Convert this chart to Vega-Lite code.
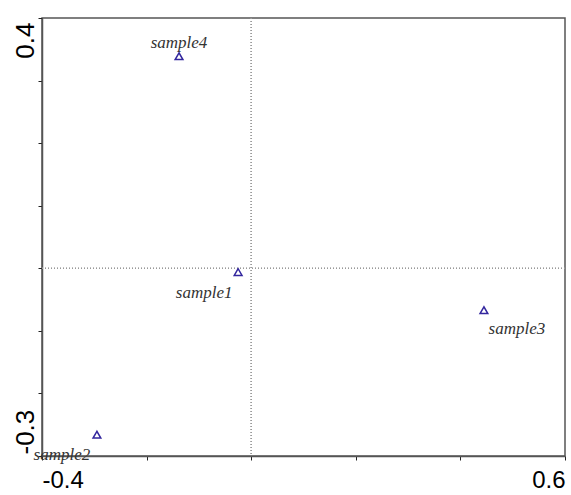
{
  "$schema": "https://vega.github.io/schema/vega-lite/v6.json",
  "width": 523,
  "height": 438,
  "autosize": "none",
  "padding": {"left": 42, "top": 18, "right": 6, "bottom": 39},
  "background": "white",
  "config": {
    "view": {"stroke": "#555555", "strokeWidth": 1.5},
    "axis": {
      "grid": false,
      "domainColor": "#555555",
      "domainWidth": 1.5,
      "tickColor": "#222222",
      "tickSize": 4,
      "labelFont": "Liberation Sans",
      "labelColor": "#000000",
      "title": null
    }
  },
  "data": {
    "values": [
      {"label": "sample1", "x": -0.025, "y": -0.006},
      {"label": "sample2", "x": -0.295, "y": -0.266},
      {"label": "sample3", "x": 0.445, "y": -0.067},
      {"label": "sample4", "x": -0.138, "y": 0.339}
    ]
  },
  "layer": [
    {
      "mark": {"type": "rule", "color": "#9a9a9a", "strokeDash": [1, 2], "strokeWidth": 1},
      "encoding": {"x": {"datum": 0, "type": "quantitative"}}
    },
    {
      "mark": {"type": "rule", "color": "#9a9a9a", "strokeDash": [1, 2], "strokeWidth": 1},
      "encoding": {"y": {"datum": 0, "type": "quantitative"}}
    },
    {
      "mark": {"type": "point", "shape": "triangle-up", "filled": false, "size": 60, "strokeWidth": 1.5, "color": "#33279e", "opacity": 1},
      "encoding": {
        "x": {
          "field": "x", "type": "quantitative",
          "scale": {"domain": [-0.4, 0.6], "nice": false, "zero": false},
          "axis": {
            "values": [-0.4, -0.2, 0, 0.2, 0.4, 0.6],
            "labelExpr": "datum.value == -0.4 ? '-0.4' : (datum.value == 0.6 ? '0.6' : '')",
            "labelFontSize": 24,
            "labelFlush": true,
            "labelPadding": 8
          }
        },
        "y": {
          "field": "y", "type": "quantitative",
          "scale": {"domain": [-0.3, 0.4], "nice": false, "zero": false},
          "axis": {
            "values": [-0.3, -0.2, -0.1, 0, 0.1, 0.2, 0.3, 0.4],
            "labelExpr": "datum.value == -0.3 ? '-0.3' : (datum.value == 0.4 ? '0.4' : '')",
            "labelFontSize": 26,
            "labelAngle": 270,
            "labelAlign": {"condition": {"test": "datum.value > 0", "value": "right"}, "value": "left"},
            "labelOffset": {"condition": {"test": "datum.value > 0", "value": 4}, "value": -2},
            "labelBaseline": "alphabetic",
            "labelPadding": 5
          }
        }
      }
    },
    {
      "transform": [{"filter": "datum.label == 'sample1'"}],
      "mark": {"type": "text", "font": "Liberation Serif", "fontStyle": "italic", "fontSize": 17, "color": "#333333", "dx": -34, "dy": 21},
      "encoding": {"x": {"field": "x", "type": "quantitative"}, "y": {"field": "y", "type": "quantitative"}, "text": {"field": "label"}}
    },
    {
      "transform": [{"filter": "datum.label == 'sample2'"}],
      "mark": {"type": "text", "font": "Liberation Serif", "fontStyle": "italic", "fontSize": 17, "color": "#333333", "dx": -35, "dy": 20},
      "encoding": {"x": {"field": "x", "type": "quantitative"}, "y": {"field": "y", "type": "quantitative"}, "text": {"field": "label"}}
    },
    {
      "transform": [{"filter": "datum.label == 'sample3'"}],
      "mark": {"type": "text", "font": "Liberation Serif", "fontStyle": "italic", "fontSize": 17, "color": "#333333", "dx": 33, "dy": 19},
      "encoding": {"x": {"field": "x", "type": "quantitative"}, "y": {"field": "y", "type": "quantitative"}, "text": {"field": "label"}}
    },
    {
      "transform": [{"filter": "datum.label == 'sample4'"}],
      "mark": {"type": "text", "font": "Liberation Serif", "fontStyle": "italic", "fontSize": 17, "color": "#333333", "dx": 0, "dy": -13},
      "encoding": {"x": {"field": "x", "type": "quantitative"}, "y": {"field": "y", "type": "quantitative"}, "text": {"field": "label"}}
    }
  ]
}
